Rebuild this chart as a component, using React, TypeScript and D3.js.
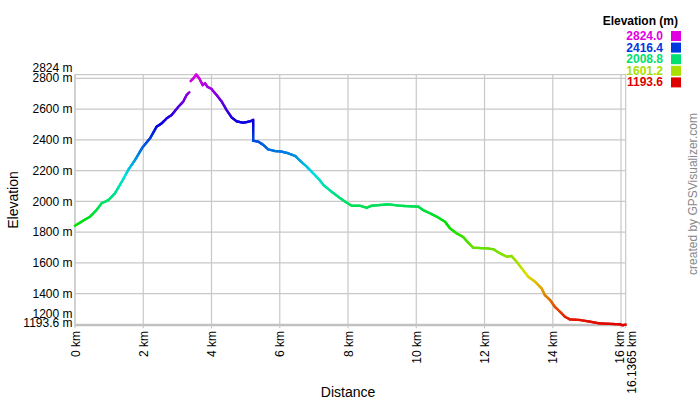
import React from "react";
import * as d3 from "d3";

const distanceKm: (number)[] = [
  0, 0.24, 0.44, 0.63, 0.78, 0.98, 1.17, 1.37, 1.56, 1.76, 1.97, 2.2, 2.39, 2.54, 2.69, 2.83, 3.03, 3.17, 3.27, 3.35,
  3.37,
  3.39, 3.47, 3.55, 3.64, 3.74, 3.81, 3.88, 4.0, 4.15, 4.3, 4.44, 4.59, 4.74, 4.93, 5.13, 5.22, 5.22, 5.37, 5.52,
  5.66, 5.86, 6.06, 6.25, 6.45, 6.59, 6.79, 6.98, 7.16, 7.28, 7.52, 7.77, 7.96, 8.11, 8.35, 8.55, 8.69, 8.94, 9.18,
  9.52, 10.06, 10.2, 10.4, 10.6, 10.84, 10.99, 11.18, 11.38, 11.52, 11.67, 12.06, 12.26, 12.45, 12.65, 12.79, 12.94,
  13.09, 13.28, 13.48, 13.67, 13.77, 13.92, 14.06, 14.21, 14.36, 14.5, 14.8, 15.09, 15.38, 15.97, 16.05, 16.1365,
];
const elevationM: (number | null)[] = [
  1841, 1874, 1900, 1943, 1987, 2008, 2052, 2127, 2204, 2269, 2348, 2410, 2485, 2507, 2540, 2561, 2615, 2648, 2691, 2709,
  null,
  2782, 2800, 2824, 2800, 2756, 2767, 2745, 2730, 2691, 2648, 2594, 2545, 2520, 2511, 2520, 2529, 2394, 2388, 2366,
  2338, 2327, 2323, 2312, 2295, 2265, 2225, 2182, 2140, 2106, 2062, 2020, 1991, 1971, 1971, 1958, 1971, 1976, 1980,
  1971, 1965, 1943, 1922, 1900, 1867, 1824, 1792, 1766, 1731, 1698, 1694, 1688, 1662, 1640, 1644, 1607,
  1564, 1510, 1477, 1434, 1390, 1358, 1314, 1282, 1249, 1232, 1228, 1217, 1206, 1200, 1194, 1198,
];

const yTicks = [1200, 1400, 1600, 1800, 2000, 2200, 2400, 2600, 2800];
const xTicks = [0, 2, 4, 6, 8, 10, 12, 14, 16];
const legendValues = [2824.0, 2416.4, 2008.8, 1601.2, 1193.6];
const elevMin = 1193.6;
const elevMax = 2824;
const distMax = 16.1365;

const FONT = "'Liberation Sans', Arial, Helvetica, sans-serif";

function colorFor(e: number) {
  const t = Math.max(0, Math.min(1, (e - elevMin) / (elevMax - elevMin)));
  return d3.hsl(300 * t, 1, 0.44).formatHex();
}

export default function App() {
  const x = d3.scaleLinear().domain([0, distMax]).range([75, 625.7]);
  const y = d3.scaleLinear().domain([elevMin, elevMax]).range([325.3, 74.6]);

  const segs: { x1: number; y1: number; x2: number; y2: number; c: string }[] = [];
  for (let i = 1; i < distanceKm.length; i++) {
    const e0 = elevationM[i - 1];
    const e1 = elevationM[i];
    if (e0 == null || e1 == null) continue;
    const d0 = distanceKm[i - 1];
    const d1 = distanceKm[i];
    const n = Math.max(1, Math.ceil(Math.hypot(x(d1) - x(d0), y(e1) - y(e0)) / 2));
    for (let k = 0; k < n; k++) {
      const a = k / n, b = (k + 1) / n;
      const ea = e0 + (e1 - e0) * a, eb = e0 + (e1 - e0) * b;
      segs.push({
        x1: x(d0 + (d1 - d0) * a), y1: y(ea),
        x2: x(d0 + (d1 - d0) * b), y2: y(eb),
        c: colorFor((ea + eb) / 2),
      });
    }
  }

  const yLabelDy: Record<string, number> = { "1200": -11 };
  const x0 = x(0), x1 = x(distMax), yTop = y(elevMax), yBot = y(elevMin);

  return (
    <svg width={700} height={400} style={{ position: "absolute", left: 0, top: 0, background: "#fff" }} fontFamily={FONT}>
      <rect x={0} y={0} width={700} height={400} fill="#fff" />
      {/* grid */}
      {yTicks.map((t) => (
        <line key={"gy" + t} x1={x0} x2={x1} y1={y(t)} y2={y(t)} stroke="#c8c8c8" strokeWidth={1.2} />
      ))}
      {xTicks.map((t) => (
        <line key={"gx" + t} x1={x(t)} x2={x(t)} y1={yTop} y2={yBot} stroke="#c8c8c8" strokeWidth={1.2} />
      ))}
      <rect x={x0} y={yTop} width={x1 - x0} height={yBot - yTop} fill="none" stroke="#c8c8c8" strokeWidth={1.2} />
      <line x1={x0} x2={x1} y1={yBot} y2={yBot} stroke="#c0c0c0" strokeWidth={2} />
      {xTicks.concat([distMax]).map((t) => (
        <line key={"tk" + t} x1={x(t)} x2={x(t)} y1={yBot} y2={yBot + 3} stroke="#c8c8c8" strokeWidth={1.2} />
      ))}

      {/* profile */}
      <g strokeWidth={2.3} strokeLinecap="square">
        {segs.map((s, i) => (
          <line key={i} x1={s.x1} y1={s.y1} x2={s.x2} y2={s.y2} stroke={s.c} />
        ))}
      </g>

      {/* y labels */}
      <g fontSize={12} fill="#000" textAnchor="end">
        {yTicks.map((t) => (
          <text key={"yl" + t} x={72.5} y={y(t) + (yLabelDy[String(t)] || 0)} dy="0.35em">{t} m</text>
        ))}
        <text x={72.5} y={y(elevMax) - 6.5} dy="0.35em">{elevMax} m</text>
        <text x={72.5} y={y(elevMin) - 2.2} dy="0.35em">{elevMin} m</text>
      </g>

      {/* x labels */}
      <g fontSize={12} fill="#000" textAnchor="end">
        {xTicks.map((t) => (
          <text key={"xl" + t} transform={`translate(${x(t) + (t === 16 ? -1.5 : 0) + 4.5},331) rotate(-90)`}>{t} km</text>
        ))}
        <text transform={`translate(${x(distMax) + 5.5 + 4.5},331) rotate(-90)`}>{distMax} km</text>
      </g>

      {/* axis titles */}
      <text transform="translate(18,200) rotate(-90)" textAnchor="middle" fontSize={14} fill="#000">Elevation</text>
      <text x={348} y={397} textAnchor="middle" fontSize={14} fill="#000">Distance</text>

      {/* legend */}
      <text x={678} y={25} textAnchor="end" fontSize={12} fontWeight="bold" fill="#000">Elevation (m)</text>
      {legendValues.map((v, i) => (
        <g key={"lg" + i}>
          <text x={663} y={40 + i * 11.6} textAnchor="end" fontSize={12} fontWeight="bold" fill={colorFor(v)}>{v.toFixed(1)}</text>
          <rect x={671} y={31 + i * 11.6} width={10} height={10} fill={colorFor(v)} />
        </g>
      ))}

      {/* credit */}
      <text transform="translate(697,194) rotate(-90)" textAnchor="middle" fontSize={12} fill="#888">created by GPSVisualizer.com</text>
    </svg>
  );
}
